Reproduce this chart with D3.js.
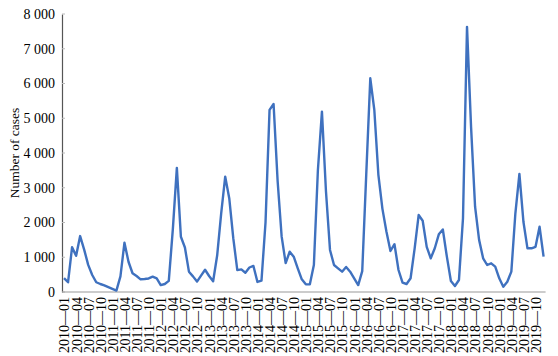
<!DOCTYPE html>
<html><head><meta charset="utf-8">
<script src="https://cdn.jsdelivr.net/npm/d3@7"></script>
<style>body{margin:0;background:#fff}svg{display:block}</style>
</head><body>
<svg id="c" width="558" height="356"></svg>
<script>
(function(){
const years = [2010,2011,2012,2013,2014,2015,2016,2017,2018,2019];
const monthNames = ["01","02","03","04","05","06","07","08","09","10","11","12"];
const categories = [];
years.forEach(yr => monthNames.forEach(m => categories.push(yr + "—" + m)));
const cases = [
  400, 280,1290,1040,1610,1220, 780, 490, 280, 230, 190, 140,
   90,  40, 450,1420, 870, 540, 460, 365, 375, 390, 440, 390,
  200, 230, 320,1800,3570,1590,1280, 585, 450, 300, 470, 640,
  460, 310,1050,2260,3320,2700,1550, 630, 650, 555, 705, 750,
  290, 325,2000,5240,5410,3200,1600, 830,1160,1016, 680, 365,
  220, 220, 777,3510,5190,2900,1210, 777, 680, 585, 720, 585,
  395, 200, 600,3400,6150,5237,3380,2400,1740,1180,1375, 633,
  270, 230, 395,1250,2215,2050,1300, 970,1260,1660,1800,1016,
  316, 173, 345,2120,7630,4760,2455,1500, 970, 777, 826, 728,
  394, 153, 296, 585,2265,3400,2020,1257,1257,1300,1880,1016
];
const tickLabels = categories.filter((d,i) => i % 3 === 0);
const yTicks = [0,1000,2000,3000,4000,5000,6000,7000,8000];
const yTitle = "Number of cases";

const svg = d3.select("#c");
const mLeft = 62, mRight = 545.6, mTop = 14, mBottom = 292;
const x = d3.scalePoint().domain(categories).range([mLeft, mRight]).padding(0.5);
const y = d3.scaleLinear().domain([0, 8000]).range([mBottom, mTop]);
const font = "'Liberation Serif','Times New Roman',serif";

const yAxis = d3.axisLeft(y).tickValues(yTicks).tickSize(0).tickPadding(7)
  .tickFormat(d => d3.format(",")(d).replace(/,/g, " "));
const gy = svg.append("g").attr("transform", `translate(${mLeft},0)`).call(yAxis);
gy.select(".domain").attr("stroke", "#555").attr("stroke-width", 1.2);
gy.selectAll("text").attr("font-family", font).attr("font-size", 14).attr("fill", "#000");
svg.append("g").selectAll("line").data(yTicks).join("line")
  .attr("x1", mLeft).attr("x2", mLeft + 3)
  .attr("y1", d => y(d)).attr("y2", d => y(d))
  .attr("stroke", "#bbb").attr("stroke-width", 1);

const xAxis = d3.axisBottom(x).tickValues(tickLabels).tickSize(0).tickPadding(0);
const gx = svg.append("g").attr("transform", `translate(0,${mBottom})`).call(xAxis);
gx.select(".domain").attr("stroke", "#999").attr("stroke-width", 1.2)
  .attr("d", `M${mLeft},0H${mRight}`);
gx.selectAll("text")
  .attr("font-family", font).attr("font-size", 14).attr("fill", "#000")
  .attr("text-anchor", "end")
  .attr("transform", "rotate(-90)")
  .attr("x", -5).attr("y", 0).attr("dy", "0.35em");

svg.append("text")
  .attr("transform", "translate(14,153) rotate(-90)")
  .attr("text-anchor", "middle").attr("dy", "0.35em")
  .attr("font-family", font).attr("font-size", 13.5).attr("fill", "#000")
  .text(yTitle);

const line = d3.line().x((d,i) => x(categories[i])).y(d => y(d));
svg.append("path").datum(cases)
  .attr("fill", "none").attr("stroke", "#3F71BF").attr("stroke-width", 2.4)
  .attr("stroke-linejoin", "round")
  .attr("d", line);
})();
</script>
</body></html>
